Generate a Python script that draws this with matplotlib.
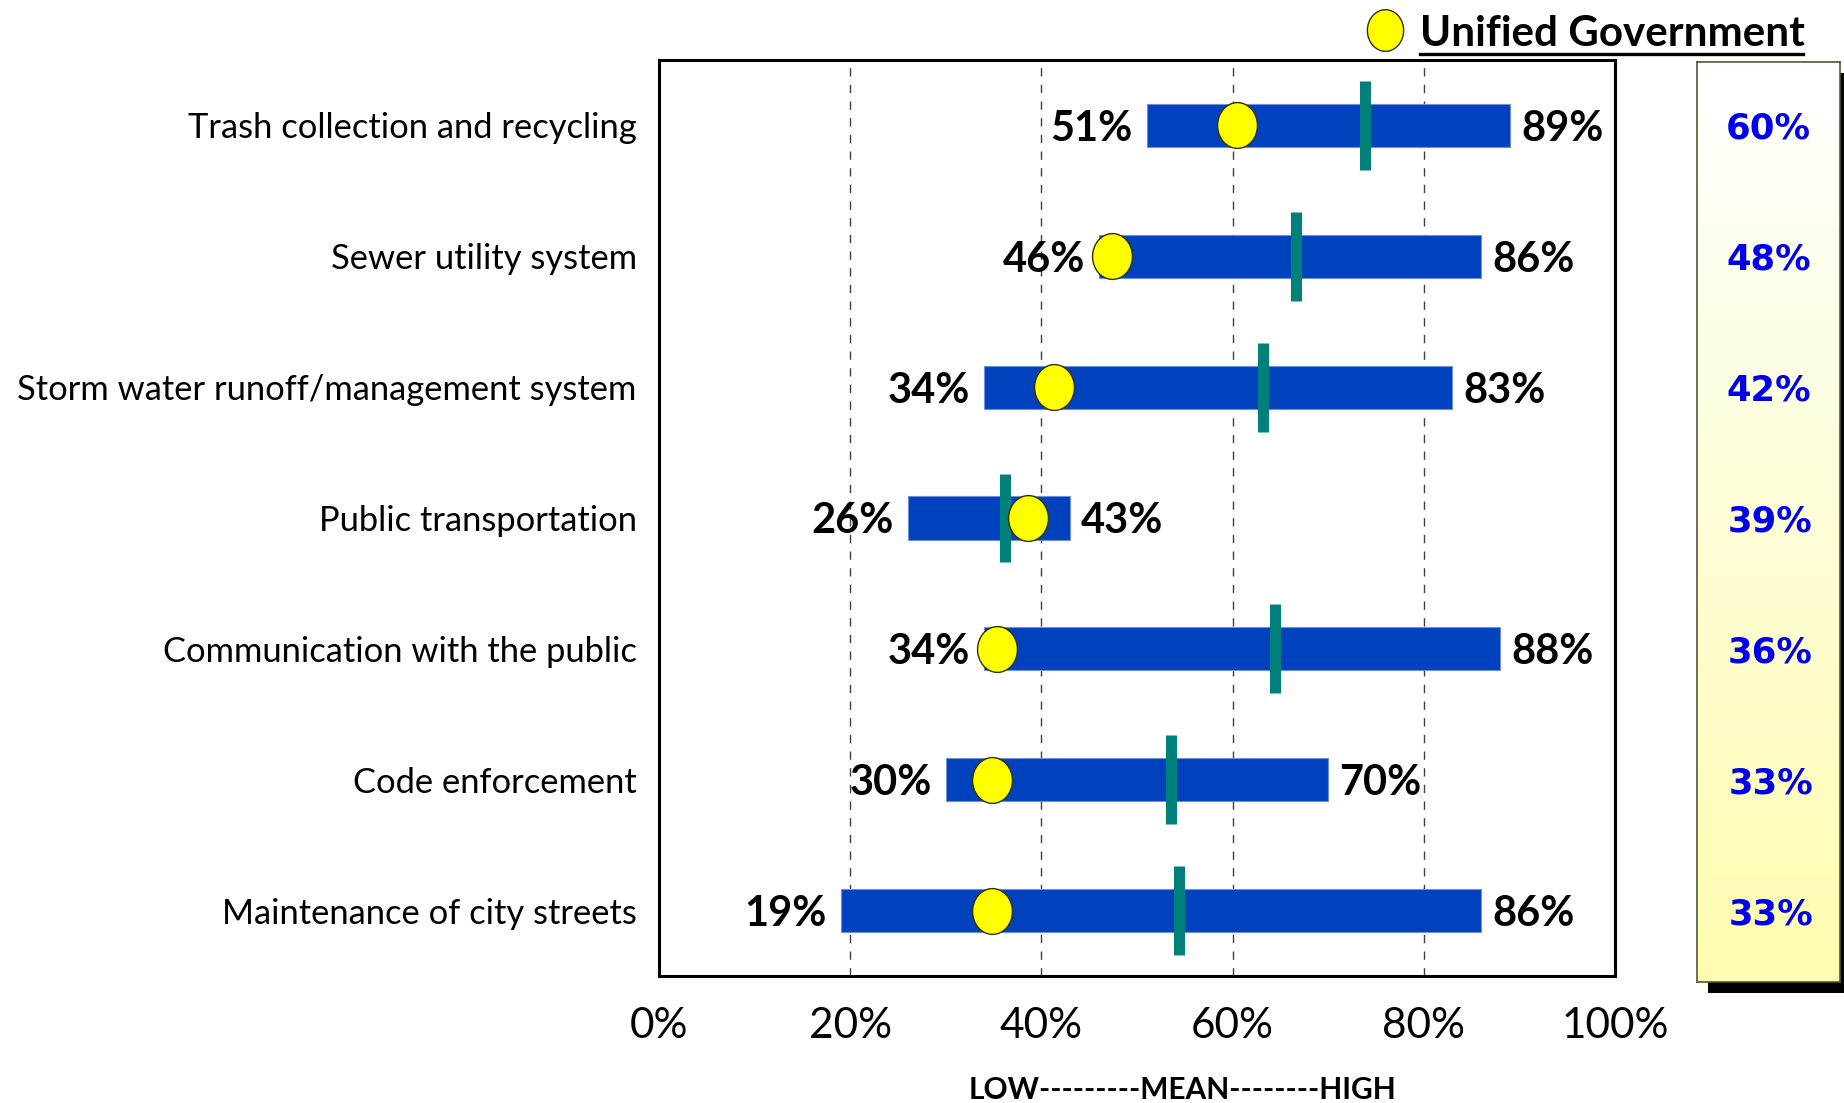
import matplotlib
matplotlib.use("Agg")
import matplotlib.pyplot as plt
import numpy as np
from matplotlib import font_manager
from matplotlib.lines import Line2D
from matplotlib.patches import Rectangle
from matplotlib.path import Path
from matplotlib.markers import MarkerStyle
from matplotlib.transforms import Affine2D, blended_transform_factory

# ---------------- data ----------------
categories = [
    "Trash collection and recycling",
    "Sewer utility system",
    "Storm water runoff/management system",
    "Public transportation",
    "Communication with the public",
    "Code enforcement",
    "Maintenance of city streets",
]
low = [51, 46, 34, 26, 34, 30, 19]
high = [89, 86, 83, 43, 88, 70, 86]
mean = [73.8, 66.6, 63.2, 36.2, 64.4, 53.6, 54.4]
ug_value = [60, 48, 42, 39, 36, 33, 33]
ug_marker = [60.5, 47.4, 41.3, 38.6, 35.4, 34.8, 34.8]
x_ticks = [0, 20, 40, 60, 80, 100]
x_ticklabels = ["0%", "20%", "40%", "60%", "80%", "100%"]
legend_label = "Unified Government"
axis_caption = "LOW---------MEAN--------HIGH"

# ---------------- fonts ----------------
names = {f.name for f in font_manager.fontManager.ttflist}
narrow = "Liberation Sans Narrow" if "Liberation Sans Narrow" in names else "Lato"
fam = [narrow, "DejaVu Sans"]

W, H = 1844, 1103
fig = plt.figure(figsize=(W / 100, H / 100), dpi=100)

def fx(px):
    return px / W

def fy(py):
    return 1 - py / H

ax_left, ax_right, ax_top, ax_bottom = 659, 1615, 60, 976
ax = fig.add_axes([fx(ax_left), fy(ax_bottom), fx(ax_right - ax_left), (ax_bottom - ax_top) / H])

n = len(categories)
y = np.arange(n)
low_a = np.array(low)
high_a = np.array(high)

ax.barh(y, high_a - low_a, left=low_a, height=0.33, color="#0041BE",
        edgecolor="#6F8FD8", linewidth=0.8, zorder=3)
ax.vlines(mean, y - 0.34, y + 0.34, colors="#00807A", linewidth=8,
          capstyle="butt", zorder=4)

ell = Path.unit_circle().transformed(Affine2D().scale(0.87, 1.0))
ax.plot(ug_marker, y, linestyle="none", marker=MarkerStyle(ell), ms=33,
        mfc="#FFFF00", mec="#333300", mew=1.0, zorder=5)

for i in range(n):
    ax.annotate(f"{low[i]}%", (low[i], y[i]), xytext=(-10, -2.5), textcoords="offset points",
                ha="right", va="center", fontsize=30, fontweight="bold",
                family=fam, zorder=6)
    ax.annotate(f"{high[i]}%", (high[i], y[i]), xytext=(8, -2.5), textcoords="offset points",
                ha="left", va="center", fontsize=30, fontweight="bold",
                family=fam, zorder=6)

ax.set_xlim(0, 100)
ax.set_ylim(n - 0.5, -0.5)
ax.set_xticks(x_ticks)
ax.set_xticklabels(x_ticklabels, fontsize=30.5, family=fam)
ax.set_yticks(y)
ax.set_yticklabels(categories, fontsize=24.8, family=fam)
ax.tick_params(axis="x", length=0, pad=22)
ax.tick_params(axis="y", length=0, pad=16)
for xv in x_ticks[1:-1]:
    ax.axvline(xv, color="#404040", linewidth=1.0, linestyle=(0, (6, 6)), zorder=1)
for s in ax.spines.values():
    s.set_linewidth(2.2)
    s.set_color("black")

fig.text(fx(1182), fy(1099), axis_caption, ha="center", va="baseline", fontsize=21.5,
         fontweight="bold", family=fam)

# ---------------- legend ----------------
fig.add_artist(Line2D([fx(1385)], [fy(30)], transform=fig.transFigure, marker=MarkerStyle(ell),
                      ms=30, mfc="#FFFF00", mec="#333300", mew=1.0, linestyle="none"))
fig.text(fx(1420), fy(34), legend_label, ha="left", va="center", fontsize=30.3,
         fontweight="bold", family=fam)
fig.add_artist(Line2D([fx(1420), fx(1803)], [fy(54), fy(54)], transform=fig.transFigure,
                      color="black", linewidth=2.4))

# ---------------- right box ----------------
bx0, bx1, by0, by1 = 1697, 1840, 62, 982
shadow = Rectangle((fx(bx0 + 11), fy(by1 + 11)), fx(bx1 - bx0), (by1 - by0) / H,
                   transform=fig.transFigure, facecolor="black", edgecolor="none", zorder=-5)
fig.add_artist(shadow)
bax = fig.add_axes([fx(bx0), fy(by1), fx(bx1 - bx0), (by1 - by0) / H])
bax.set_zorder(2)
grad = np.linspace(0, 1, 256)[:, None]
c_top = np.array([1.0, 1.0, 1.0])
c_bot = np.array([0.996, 0.992, 0.69])
img = c_top[None, None, :] * (1 - grad[:, :, None]) + c_bot[None, None, :] * grad[:, :, None]
bax.imshow(img, aspect="auto", extent=[0, 1, 0, 1], origin="upper")
bax.set_xlim(0, 1)
bax.set_ylim(0, 1)
bax.set_xticks([])
bax.set_yticks([])
for s in bax.spines.values():
    s.set_linewidth(1.2)
    s.set_color("#55553A")
tr = blended_transform_factory(bax.transAxes, ax.transData)
x_off = [0.5, 0.5, 0.5, 0.51, 0.51, 0.52, 0.52]
for i in range(n):
    bax.annotate(f"{ug_value[i]}%", (x_off[i], y[i]), xycoords=tr, xytext=(0, -2.5),
                 textcoords="offset points", ha="center", va="center",
                 fontsize=25.5, fontweight="bold", color="#0000EE", family="DejaVu Sans",
                 annotation_clip=False)

fig.savefig("out.png", dpi=100)
